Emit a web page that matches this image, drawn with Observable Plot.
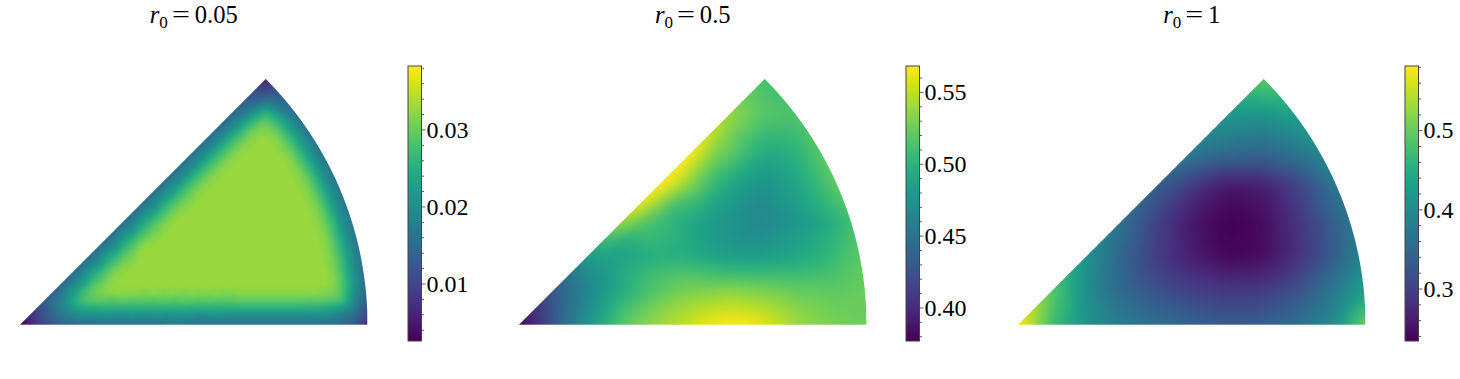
<!DOCTYPE html>
<html><head><meta charset="utf-8">
<script src="https://cdn.jsdelivr.net/npm/d3@7"></script>
<script src="https://cdn.jsdelivr.net/npm/@observablehq/plot@0.6"></script>
<style>
html,body{margin:0;padding:0;background:#fff;overflow:hidden}
#c{position:relative;width:1460px;height:379px}
#c svg{position:absolute;background:transparent;overflow:visible}
#c svg.panel{overflow:hidden}
.t{position:absolute;top:0;transform:translateX(-50%);font:24.6px/30px "Liberation Serif",serif;white-space:nowrap;color:#000}
.t i{font-style:italic}
.t sub{font-size:17px;line-height:0;vertical-align:-5px}
.t b{font-weight:400;display:inline-block;transform:scaleX(1.3);margin:0 7px 0 6px}
</style></head><body><div id="c"></div>
<script>
// Panel r0 = 0.05: values read on offset rings (distance from the boundary), at stations along each edge
const ringDist = [0,.025,.05,.07,.09,.115];
const bottomStations = [0,.04,.09,.16,.24,.32,.4,.5,.6,.68,.76,.84,.91,.96];
const arcStations = [0,.05,.11,.2,.3,.4,.5,.6,.7,.8,.89,.95];
const hypStations = [0,.04,.09,.16,.24,.32,.4,.5,.6,.68,.76,.84,.91,.96];
const bottomRings = [
  [.003,.0075,.0125,.0148,.0155,.0155,.0155,.0155,.0155,.0155,.0155,.0155,.015,.0125],
  [.011,.0145,.018,.0193,.0195,.0195,.0195,.0195,.0195,.0195,.0195,.0195,.019,.0165],
  [.019,.0225,.0248,.0255,.0255,.0255,.0255,.0255,.0255,.0255,.0255,.0255,.0248,.0225],
  [.027,.0285,.0293,.0293,.0293,.0293,.0293,.0293,.0293,.0293,.0293,.0293,.0293,.0285],
  [.0305,.0316,.0318,.0318,.0318,.0318,.0318,.0318,.0318,.0318,.0318,.0318,.0318,.0312],
  [.0328,.0328,.0328,.0328,.0328,.0328,.0328,.0328,.0328,.0328,.0328,.0328,.0328,.0328]
];
const arcRings = [
  [.006,.011,.0145,.016,.0163,.0165,.0165,.0165,.0165,.016,.0145,.011],
  [.013,.016,.019,.0198,.02,.02,.02,.02,.02,.0198,.0185,.016],
  [.02,.023,.0252,.0255,.0255,.0255,.0255,.0255,.0255,.0255,.0248,.023],
  [.027,.0285,.0293,.0293,.0293,.0293,.0293,.0293,.0293,.0293,.029,.028],
  [.0305,.0316,.0318,.0318,.0318,.0318,.0318,.0318,.0318,.0318,.0318,.0312],
  [.0328,.0328,.0328,.0328,.0328,.0328,.0328,.0328,.0328,.0328,.0328,.0328]
];
const hypRings = [
  [.0065,.0105,.0135,.015,.0158,.016,.016,.016,.016,.0158,.0155,.0148,.0125,.0075],
  [.011,.0145,.0175,.019,.0195,.0195,.0195,.0195,.0195,.0195,.0195,.019,.018,.0145],
  [.0185,.022,.0245,.0255,.0255,.0255,.0255,.0255,.0255,.0255,.0255,.0255,.0248,.0225],
  [.0265,.0282,.0293,.0293,.0293,.0293,.0293,.0293,.0293,.0293,.0293,.0293,.0293,.0285],
  [.0305,.0316,.0318,.0318,.0318,.0318,.0318,.0318,.0318,.0318,.0318,.0318,.0318,.0312],
  [.0328,.0328,.0328,.0328,.0328,.0328,.0328,.0328,.0328,.0328,.0328,.0328,.0328,.0328]
];
const plateauX = [.3,.4,.5,.6,.7,.8,.35,.45,.55,.65,.75,.45,.55,.65,.72,.6,.68];
const plateauY = [.14,.14,.14,.14,.14,.14,.22,.22,.22,.22,.22,.3,.3,.3,.3,.4,.4];
const plateauV = [.0328,.0328,.0328,.0328,.0328,.0328,.0328,.0328,.0328,.0328,.0328,.0328,.0328,.0328,.0328,.0328,.0328];

// Regular sample rows shared by the two smooth panels
const rowY = [0,.1,.2,.3,.4,.5,.6,.7,.707];
const rowX = [
  [0,.1,.2,.3,.4,.5,.6,.7,.8,.9,1],
  [.1,.2,.3,.4,.5,.6,.7,.8,.9,.995],
  [.2,.3,.4,.5,.6,.7,.8,.9,.98],
  [.3,.4,.5,.6,.7,.8,.9,.954],
  [.4,.5,.6,.7,.8,.9,.917],
  [.5,.6,.7,.8,.866],
  [.6,.7,.8],
  [.7,.714],
  [.707]
];
// Panel r0 = 0.5
const b_rows = [
  [.378,.43,.48,.52,.54,.555,.57,.562,.54,.53,.525],
  [.43,.465,.495,.518,.53,.535,.53,.522,.52,.525],
  [.485,.487,.497,.492,.482,.482,.49,.505,.52],
  [.545,.508,.49,.475,.465,.478,.495,.51],
  [.575,.527,.49,.473,.49,.515,.525],
  [.57,.525,.495,.50,.52],
  [.54,.518,.515],
  [.515,.51],
  [.51]
];
const b_extraX = [.05,.15,.25,.35,.45,.55,.65, .35,.4,.45,.45,.5,.55,.55,.6,.3,.25, .15,.05,.15,.25,.35,.45,.55,.65,.75,
  .1,.2,.3,.4,.5,.6,.7,.8,.9, .3,.4,.5,.6,.7,.8,.9];
const b_extraY = [.05,.15,.25,.35,.45,.55,.65, .3,.35,.35,.4,.45,.45,.5,.55,.25,.2, .1,0,0,0,0,0,0,0,0,
  .05,.05,.05,.05,.05,.05,.05,.05,.05, .15,.15,.15,.15,.15,.15,.15];
const b_extraV = [.405,.455,.515,.565,.575,.555,.525, .52,.535,.51,.55,.545,.52,.535,.53,.497,.485, .45,.405,.455,.50,.532,.548,.565,.57,.552,
  .43,.47,.51,.532,.545,.552,.546,.533,.525, .497,.512,.515,.507,.505,.507,.512];
// Panel r0 = 1
const c_rows = [
  [.585,.47,.41,.375,.36,.345,.335,.34,.36,.40,.515],
  [.49,.40,.35,.32,.30,.29,.295,.32,.37,.43],
  [.41,.345,.295,.26,.238,.243,.28,.33,.385],
  [.36,.30,.255,.233,.243,.285,.335,.37],
  [.335,.29,.255,.26,.30,.36,.375],
  [.38,.36,.35,.37,.40],
  [.415,.41,.43],
  [.49,.49],
  [.495]
];
const titles = ["0.05","0.5","1"];
const panelLeft = [20,519,1018];
const barLeft = [406.6,904.6,1403.6];
const barDomains = [[.0026,.0383],[.377,.5684],[.2343,.5817]];
const majorTicks = [[.01,.02,.03],[.40,.45,.50,.55],[.3,.4,.5]];
const minorTicks = [
  [.004,.006,.008,.012,.014,.016,.018,.022,.024,.026,.028,.032,.034,.036,.038],
  [.38,.39,.41,.42,.43,.44,.46,.47,.48,.49,.51,.52,.53,.54,.56],
  [.24,.26,.28,.32,.34,.36,.38,.42,.44,.46,.48,.52,.54,.56,.58]
];
const tickFormats = [".2f",".2f",".1f"];
const blurs = [2,7,7];

const R = Math.SQRT2;
function ringPoint(edge,f,d){
  const a = Math.asin(d/(1-d));
  if(edge==="bottom"){
    const x0=(1+R)*d, x1=Math.sqrt((1-d)*(1-d)-d*d);
    return {x:x0+f*(x1-x0),y:d};
  }
  if(edge==="arc"){
    const t=a+f*(Math.PI/4-2*a);
    return {x:(1-d)*Math.cos(t),y:(1-d)*Math.sin(t)};
  }
  const t=Math.PI/4-a;
  const xa=(1-d)*Math.cos(t), ya=(1-d)*Math.sin(t), xb=(1+R)*d;
  return {x:xa+f*(xb-xa),y:ya+f*(d-ya)};
}
const ringSamples = [];
ringDist.forEach((d,i)=>{
  bottomStations.forEach((f,j)=>ringSamples.push({...ringPoint("bottom",f,d),v:bottomRings[i][j]}));
  arcStations.forEach((f,j)=>ringSamples.push({...ringPoint("arc",f,d),v:arcRings[i][j]}));
  hypStations.forEach((f,j)=>ringSamples.push({...ringPoint("hyp",f,d),v:hypRings[i][j]}));
});
plateauX.forEach((x,i)=>ringSamples.push({x,y:plateauY[i],v:plateauV[i]}));

const flatX = rowX.flat();
const flatY = rowX.flatMap((xs,i)=>xs.map(()=>rowY[i]));
// Copies of the boundary values just outside the sector, under the mask, keep the hull away from the edges
function withGuards(pts){
  const g=[];
  for(const p of pts){
    if(p.y===0) g.push({x:p.x,y:-.04,v:p.v});
    if(Math.abs(p.x-p.y)<1e-9) g.push({x:p.x-.04,y:p.y+.04,v:p.v});
    if(p.x*p.x+p.y*p.y>.98) g.push({x:p.x*1.05,y:p.y*1.05,v:p.v});
  }
  return pts.concat(g,[{x:-.04,y:-.04,v:pts[0].v}]);
}
const samples = [
  ringSamples,
  b_rows.flat().map((v,i)=>({x:flatX[i],y:flatY[i],v})).concat(b_extraX.map((x,i)=>({x,y:b_extraY[i],v:b_extraV[i]}))),
  c_rows.flat().map((v,i)=>({x:flatX[i],y:flatY[i],v}))
].map(withGuards);

const unit = 347.5, pad = 28/unit, yMax = 273.7/unit;
const far = 3*pad;
const upper = d3.range(-far,1+far+.0005,.001).map(x=>({x,y:(x<0||x>1)?-far:Math.min(x,Math.sqrt(Math.max(0,1-x*x)))}));
const c = document.getElementById("c");
function place(svg,left,top){svg.style.left=left+"px";svg.style.top=top+"px";c.appendChild(svg);}

samples.forEach((pts,k)=>{
  const color = {type:"linear",scheme:"viridis",domain:barDomains[k],clamp:true};
  const chart = Plot.plot({
    width:404,height:302,margin:0,
    x:{domain:[-pad,1+pad],range:[0,403.5],axis:null},
    y:{domain:[-pad,yMax],range:[301.7,0],axis:null},
    color,
    marks:[
      Plot.raster(pts,{x:"x",y:"y",fill:"v",x1:-pad,x2:1+pad,y1:-pad,y2:yMax,interpolate:"barycentric",pixelSize:1,imageRendering:"auto"}),
      Plot.areaY(upper,{x:"x",y1:"y",y2:yMax+far,fill:"white"}),
      Plot.rect([{x1:-far,x2:1+far,y1:-far,y2:0}],{x1:"x1",x2:"x2",y1:"y1",y2:"y2",fill:"white"})
    ]
  });
  chart.classList.add("panel");
  chart.querySelector("image").style.filter=`blur(${blurs[k]}px)`;
  place(chart,panelLeft[k]-28,51);

  const bar = Plot.plot({
    width:70,height:277,marginLeft:.5,marginRight:56,marginTop:.5,marginBottom:1.5,
    x:{domain:[0,1],axis:null},
    y:{domain:barDomains[k],axis:null},
    color,
    marks:[
      Plot.raster({fill:(x,y)=>y,x1:0,x2:1,y1:barDomains[k][0],y2:barDomains[k][1],pixelSize:1}),
      Plot.frame({stroke:"#444",strokeWidth:1}),
      Plot.axisY(minorTicks[k],{anchor:"right",tickSize:2,tickFormat:()=>"",label:null,stroke:"#333",strokeWidth:.8}),
      Plot.axisY(majorTicks[k],{anchor:"right",tickSize:3.5,tickPadding:1.5,tickFormat:d3.format(tickFormats[k]),label:null,fontSize:24,fontFamily:"Liberation Serif",fill:"#000",stroke:"#333",strokeWidth:.8})
    ]
  });
  place(bar,barLeft[k],65);

  const t = document.createElement("div");
  t.className="t";
  t.style.left=(panelLeft[k]+173.75)+"px";
  t.innerHTML=`<i>r</i><sub>0</sub><b>=</b>${titles[k]}`;
  c.appendChild(t);
});
</script></body></html>
